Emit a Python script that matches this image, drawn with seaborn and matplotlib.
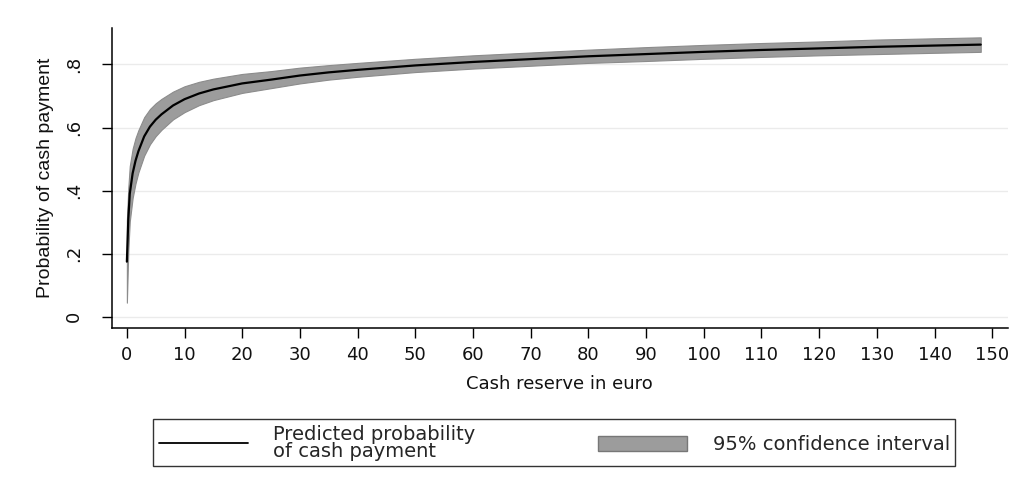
import numpy as np
import pandas as pd
import matplotlib.pyplot as plt
import seaborn as sns
from matplotlib.lines import Line2D
from matplotlib.patches import Patch

# ==============================
# Data
# ==============================

cash_reserve = [0, 0.25, 0.5, 1, 1.5, 2, 3, 4, 5, 6, 8, 10, 12.5, 15, 20, 25,
                30, 35, 40, 50, 60, 70, 80, 90, 100, 110, 120, 130, 140, 148]
prob_cash = [0.175, 0.31, 0.39, 0.455, 0.495, 0.525, 0.572, 0.603, 0.625, 0.642,
             0.670, 0.690, 0.708, 0.721, 0.740, 0.752, 0.765, 0.775, 0.783,
             0.797, 0.808, 0.817, 0.826, 0.833, 0.840, 0.846, 0.851, 0.856,
             0.860, 0.863]
ci_half = [0.13, 0.10, 0.088, 0.078, 0.072, 0.067, 0.061, 0.056, 0.052, 0.049,
           0.044, 0.041, 0.037, 0.034, 0.03, 0.027, 0.025, 0.023, 0.022, 0.021,
           0.021, 0.021, 0.021, 0.022, 0.022, 0.022, 0.022, 0.023, 0.023, 0.023]

x_ticks = list(range(0, 151, 10))
y_ticks = [0, 0.2, 0.4, 0.6, 0.8]
y_tick_labels = ["0", ".2", ".4", ".6", ".8"]

df = pd.DataFrame({"cash": cash_reserve, "prob": prob_cash, "half": ci_half})
df["lo"] = df["prob"] - df["half"]
df["hi"] = df["prob"] + df["half"]

# ==============================
# Plot
# ==============================

sns.set_style("white")
plt.rcParams['font.family'] = ['DejaVu Sans']

fig = plt.figure(figsize=(10.17, 4.78), dpi=100)
ax = fig.add_axes([0.110, 0.314, 0.881, 0.627])

ax.fill_between(df["cash"], df["lo"], df["hi"], color="#9c9c9c",
                edgecolor="#8c8c8c", linewidth=0.8, zorder=2)
sns.lineplot(data=df, x="cash", y="prob", color="black", linewidth=1.6,
             ax=ax, zorder=3)

ax.set_xlim(-2.6, 152.7)
ax.set_ylim(-0.035, 0.915)
ax.set_xticks(x_ticks)
ax.set_yticks(y_ticks)
ax.set_yticklabels(y_tick_labels, rotation=90, va="center")
ax.tick_params(axis="both", direction="out", length=7, width=1, color="black",
               bottom=True, left=True, labelcolor="#111111")
ax.tick_params(axis="x", labelsize=13, pad=6)
ax.tick_params(axis="y", labelsize=13, pad=14)

for y in y_ticks:
    ax.axhline(y, color="#ebebeb", linewidth=1, zorder=0)

for side in ["top", "right"]:
    ax.spines[side].set_visible(False)
for side in ["left", "bottom"]:
    ax.spines[side].set_color("black")
    ax.spines[side].set_linewidth(1.1)

ax.set_xlabel("Cash reserve in euro", fontsize=13, labelpad=8, color="#111111")
ax.set_ylabel("Probability of cash payment", fontsize=14, labelpad=8,
              color="#111111",
              family=["Liberation Sans Narrow", "Liberation Sans", "DejaVu Sans"])

handles = [Line2D([0], [0], color="black", linewidth=1.3),
           Patch(facecolor="#9c9c9c", edgecolor="#777777")]
labels = ["Predicted probability\nof cash payment", "95% confidence interval"]
leg = fig.legend(handles, labels, ncol=2, loc="center",
                 bbox_to_anchor=(0.545, 0.074),
                 frameon=True, fancybox=False, edgecolor="black",
                 fontsize=14, handlelength=4.6, handleheight=0.85,
                 handletextpad=1.3, labelspacing=0.1, columnspacing=6.3,
                 borderpad=0.28, borderaxespad=0)
leg.get_frame().set_linewidth(1.0)
for t in leg.get_texts():
    t.set_linespacing(0.85)

fig.savefig("out.png", dpi=100)
